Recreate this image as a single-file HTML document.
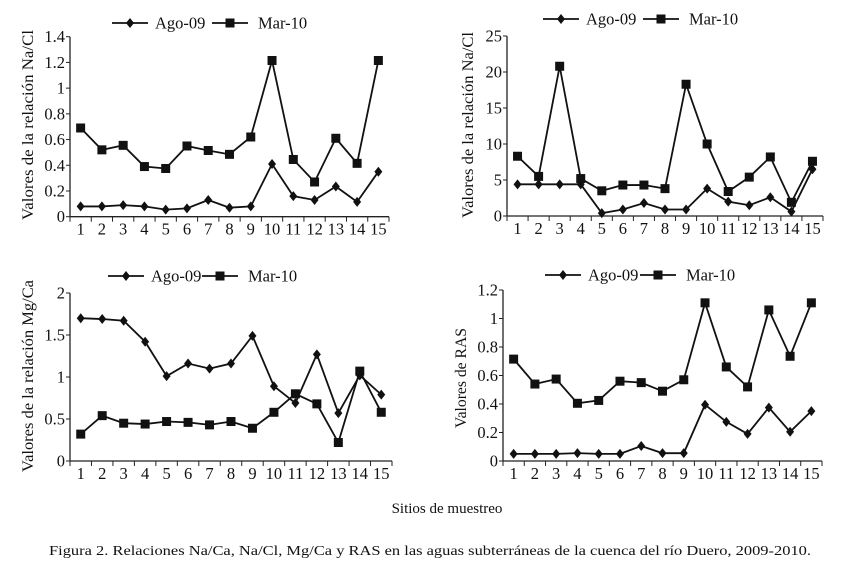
<!DOCTYPE html>
<html><head><meta charset="utf-8"><style>
body{margin:0;background:#fff;width:853px;height:567px;overflow:hidden}
svg text{font-family:"Liberation Serif",serif;fill:#111}
</style></head><body>
<svg id="s" width="853" height="567">
<text x="447" y="513" font-size="15" text-anchor="middle">Sitios de muestreo</text>
<text x="49" y="555" font-size="14" textLength="762" lengthAdjust="spacingAndGlyphs">Figura 2. Relaciones Na/Ca, Na/Cl, Mg/Ca y RAS en las aguas subterráneas de la cuenca del río Duero, 2009-2010.</text>
</svg>
<script>
const categories=[1,2,3,4,5,6,7,8,9,10,11,12,13,14,15];
const seriesNames=["Ago-09","Mar-10"];
const p1Ago=[.08,.08,.09,.08,.055,.065,.13,.07,.08,.41,.16,.13,.235,.115,.35];
const p1Mar=[.69,.52,.555,.39,.375,.55,.515,.485,.62,1.215,.445,.27,.61,.415,1.215];
const p1Ticks=["0","0.2","0.4","0.6","0.8","1","1.2","1.4"];
const p2Ago=[4.4,4.4,4.4,4.4,.4,.9,1.8,.9,.9,3.8,2.0,1.5,2.6,.6,6.5];
const p2Mar=[8.3,5.5,20.8,5.2,3.5,4.3,4.3,3.8,18.3,10.0,3.4,5.4,8.2,1.9,7.6];
const p2Ticks=["0","5","10","15","20","25"];
const p3Ago=[1.70,1.69,1.67,1.42,1.01,1.16,1.10,1.16,1.49,.89,.69,1.27,.57,1.02,.79];
const p3Mar=[.32,.54,.45,.44,.47,.46,.43,.47,.39,.58,.80,.68,.22,1.07,.58];
const p3Ticks=["0","0.5","1","1.5","2"];
const p4Ago=[.05,.05,.05,.055,.05,.05,.105,.055,.055,.395,.275,.19,.375,.205,.35];
const p4Mar=[.715,.54,.575,.405,.425,.56,.55,.49,.57,1.11,.66,.52,1.06,.735,1.11];
const p4Ticks=["0","0.2","0.4","0.6","0.8","1","1.2"];

const NS="http://www.w3.org/2000/svg",S=document.getElementById('s');
function mk(t,a,p){const e=document.createElementNS(NS,t);for(const k in a)e.setAttribute(k,a[k]);(p||S).appendChild(e);return e;}
function diamond(g,x,y){return mk('path',{d:`M${x} ${y-5}L${x+4} ${y}L${x} ${y+5}L${x-4} ${y}Z`,fill:'#111'},g);}
function square(g,x,y){return mk('rect',{x:x-4.5,y:y-4.5,width:9,height:9,fill:'#111'},g);}
function panel(cfg){
  const g=mk('g',{});
  
  
  const {x0,x1,y0,y1,ticks,max}=cfg;
  const bw=(x1-x0)/categories.length;
  const X=i=>x0+bw*(i+0.5), Y=v=>y0-(v/max)*(y0-y1);
  mk('line',{x1:x0,y1:y0,x2:x0,y2:y1,stroke:'#222','stroke-width':1.3},g);
  mk('line',{x1:x0,y1:y0,x2:x1,y2:y0,stroke:'#222','stroke-width':1.3},g);
  ticks.forEach((t,i)=>{const y=Y(parseFloat(t));
    mk('line',{x1:x0-4,y1:y,x2:x0,y2:y,stroke:'#222'},g);
    const tx=mk('text',{x:x0-5,y:y+5.5,'font-size':16.5,'text-anchor':'end'},g);tx.textContent=t;
    
    });
  for(let i=0;i<=categories.length;i++){const x=x0+bw*i;mk('line',{x1:x,y1:y0,x2:x,y2:y0+5,stroke:'#222'},g);}
  categories.forEach((c,i)=>{const tx=mk('text',{x:X(i),y:y0+18,'font-size':16.5,'text-anchor':'middle'},g);tx.textContent=c;
    
    });
  const yl=mk('text',{x:0,y:0,'font-size':16,'text-anchor':'middle',textLength:cfg.yllen,lengthAdjust:'spacingAndGlyphs',transform:`translate(${cfg.ylx},${cfg.ylc}) rotate(-90)`},g);yl.textContent=cfg.ylabel;
  
  
  [[cfg.ago,diamond,'ago-09'],[cfg.mar,square,'mar-10']].forEach(([d,m,n])=>{
    const pl=mk('polyline',{points:d.map((v,i)=>X(i)+','+Y(v)).join(' '),fill:'none',stroke:'#111','stroke-width':1.8},g);
    
    
    d.forEach((v,i)=>{const e=m(g,X(i),Y(v));});
  });
  const L=cfg.leg,ly=cfg.legy;
  const lg=mk('g',{},g);
  
  
  mk('line',{x1:L[0]-18,y1:ly,x2:L[0]+18,y2:ly,stroke:'#111','stroke-width':1.8},lg);diamond(lg,L[0],ly);
  let t=mk('text',{x:L[0]+25,y:ly+5.5,'font-size':16.5},lg);t.textContent=seriesNames[0];
  mk('line',{x1:L[1]-18,y1:ly,x2:L[1]+18,y2:ly,stroke:'#111','stroke-width':1.8},lg);square(lg,L[1],ly);
  t=mk('text',{x:L[1]+28,y:ly+5.5,'font-size':16.5},lg);t.textContent=seriesNames[1];
}
panel({name:'chart-na-cl-1',x0:70,x1:389,y0:216.7,y1:36.7,max:1.4,ticks:p1Ticks,ago:p1Ago,mar:p1Mar,ylabel:'Valores de la relación Na/Cl',ylx:33,ylc:125,yllen:190,leg:[130,230],legy:23});
panel({name:'chart-na-cl-2',x0:507,x1:823,y0:216,y1:36,max:25,ticks:p2Ticks,ago:p2Ago,mar:p2Mar,ylabel:'Valores de la relación Na/Cl',ylx:473,ylc:125,yllen:186,leg:[561,661],legy:19});
panel({name:'chart-mg-ca',x0:70,x1:392,y0:461,y1:293,max:2,ticks:p3Ticks,ago:p3Ago,mar:p3Mar,ylabel:'Valores de la relación Mg/Ca',ylx:33,ylc:376,yllen:192,leg:[126,220],legy:276});
panel({name:'chart-ras',x0:503,x1:822,y0:461,y1:290,max:1.2,ticks:p4Ticks,ago:p4Ago,mar:p4Mar,ylabel:'Valores de RAS',ylx:466,ylc:378,yllen:100,leg:[563,658],legy:275});
</script>
</body></html>
